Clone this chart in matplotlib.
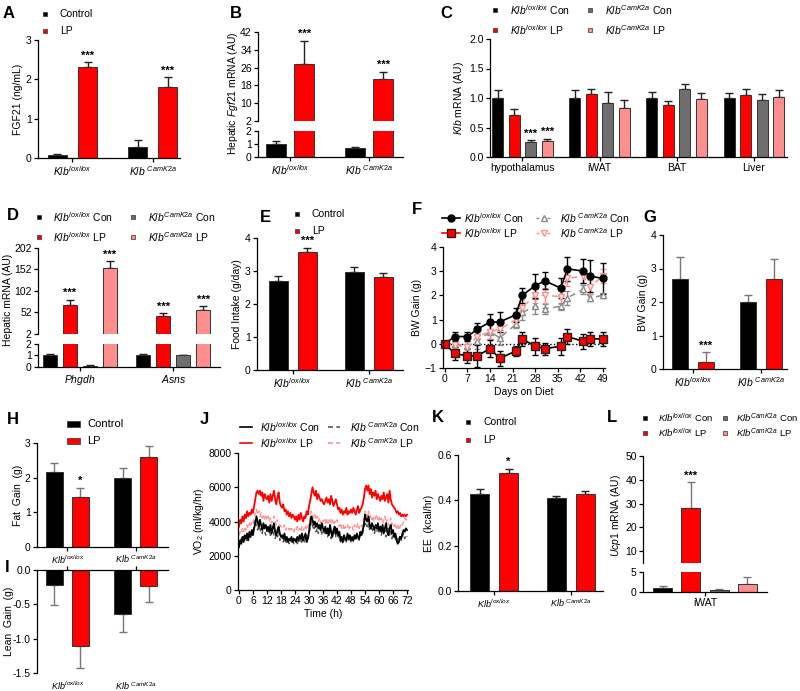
import numpy as np
import matplotlib
matplotlib.use('Agg')
import matplotlib.pyplot as plt
from matplotlib.lines import Line2D

plt.rcParams.update({
    'font.family': ['Liberation Sans', 'DejaVu Sans'],
    'font.size': 7.5,
    'mathtext.fontset': 'custom',
    'mathtext.rm': 'Liberation Sans',
    'mathtext.it': 'Liberation Sans:italic',
    'mathtext.bf': 'Liberation Sans:bold',
    'axes.spines.top': False, 'axes.spines.right': False,
    'axes.linewidth': 0.9,
    'xtick.major.size': 3, 'ytick.major.size': 3,
    'xtick.major.width': 0.9, 'ytick.major.width': 0.9,
    'xtick.major.pad': 1.5, 'ytick.major.pad': 1.5,
    'xtick.labelsize': 7.5, 'ytick.labelsize': 7.5,
    'axes.labelsize': 7.5, 'axes.labelpad': 2,
})

BLACK, RED, GRAY, PINK = '#000000', '#ff0000', '#6e6e6e', '#ff8f8f'
GENO = [r'$Klb^{lox/lox}$', r'$Klb\ ^{CamK2a}$']

# ---- data -------------------------------------------------------------
# A: plasma FGF21
A_con, A_con_err = [0.08, 0.27], [0.02, 0.19]
A_lp, A_lp_err = [2.31, 1.81], [0.13, 0.25]

# B: hepatic Fgf21 mRNA
B_con, B_con_err = [1.0, 0.68], [0.22, 0.12]
B_lp, B_lp_err = [27.6, 20.9], [10.5, 3.3]

# C: Klb mRNA by tissue
C_tissues = ['hypothalamus', 'iWAT', 'BAT', 'Liver']
C_lox_con, C_lox_con_err = [1.0, 1.0, 1.0, 1.0], [0.14, 0.14, 0.10, 0.09]
C_lox_lp, C_lox_lp_err = [0.72, 1.07, 0.88, 1.05], [0.10, 0.09, 0.07, 0.10]
C_cam_con, C_cam_con_err = [0.25, 0.92, 1.15, 0.97], [0.03, 0.18, 0.09, 0.09]
C_cam_lp, C_cam_lp_err = [0.27, 0.83, 0.99, 1.02], [0.04, 0.14, 0.09, 0.12]

# D: hepatic Phgdh / Asns
D_genes = [r'$Phgdh$', r'$Asns$']
D_lox_con, D_lox_con_err = [1.0, 1.0], [0.15, 0.15]
D_lox_lp, D_lox_lp_err = [70, 45], [12, 6]
D_cam_con, D_cam_con_err = [0.1, 1.0], [0.05, 0.08]
D_cam_lp, D_cam_lp_err = [155, 58], [17, 9]

# E: food intake
E_con, E_con_err = [2.70, 2.98], [0.15, 0.13]
E_lp, E_lp_err = [3.59, 2.83], [0.12, 0.12]

# F: body-weight gain time course
F_days = [0, 3, 7, 10, 14, 17, 22, 24, 28, 31, 36, 38, 43, 45, 49]
F_lox_con = [0, 0.3, 0.3, 0.6, 0.9, 0.9, 1.2, 2.0, 2.4, 2.6, 2.3, 3.1, 3.0, 2.8, 2.7]
F_lox_con_err = [0, 0.2, 0.2, 0.25, 0.35, 0.4, 0.3, 0.3, 0.5, 0.35, 0.4, 0.5, 0.5, 0.65, 0.65]
F_lox_lp = [0, -0.4, -0.5, -0.5, -0.2, -0.6, -0.3, 0.2, -0.1, -0.2, -0.1, 0.3, 0.1, 0.2, 0.2]
F_lox_lp_err = [0, 0.25, 0.3, 0.45, 0.35, 0.3, 0.2, 0.3, 0.35, 0.25, 0.35, 0.3, 0.3, 0.3, 0.3]
F_cam_con = [0, 0.0, -0.1, 0.1, 0.5, 0.25, 0.8, 1.3, 1.55, 1.45, 1.55, 1.9, 2.25, 1.9, 2.0]
F_cam_con_err = [0, 0.2, 0.3, 0.3, 0.3, 0.3, 0.15, 0.3, 0.3, 0.2, 0.15, 0.3, 0.2, 0.15, 0.1]
F_cam_lp = [0, -0.05, -0.15, 0.3, 0.5, 0.6, 1.0, 1.5, 2.0, 2.0, 1.95, 2.7, 2.8, 2.35, 2.8]
F_cam_lp_err = [0, 0.2, 0.25, 0.3, 0.3, 0.3, 0.3, 0.3, 0.3, 0.3, 0.3, 0.3, 0.3, 0.3, 0.3]

# G: BW gain
G_con, G_con_err = [2.7, 2.0], [0.65, 0.2]
G_lp, G_lp_err = [0.2, 2.7], [0.3, 0.58]

# H: fat gain, I: lean gain
H_con, H_con_err = [2.17, 1.98], [0.26, 0.30]
H_lp, H_lp_err = [1.43, 2.60], [0.28, 0.31]
I_con, I_con_err = [-0.22, -0.64], [0.29, 0.27]
I_lp, I_lp_err = [-1.11, -0.23], [0.31, 0.24]

# J: VO2 (0-72 h, every 0.5 h)
J_time = np.arange(0, 72.5, 0.5)
J_lox_lp = [3700, 4100, 3900, 4300, 4000, 4400, 4200, 4600, 4300, 4500, 4400, 4700, 4500,
            4900, 5300, 5700, 5800, 5600, 5800, 5500, 5700, 5200, 5600, 5400, 5300,
            5500, 5100, 5600, 5200, 5500, 5800, 5300, 5000, 5400, 5700, 5100, 4900,
            4800, 5000, 4600, 4700, 4400, 4600, 4300, 4500, 4200, 4400, 4300, 4100,
            4300, 4000, 4400, 4100, 4500, 4200, 4000, 4300, 4200, 4600, 4400, 4900,
            5200, 5600, 6000, 5700, 5500, 5800, 5300, 5600, 5400, 5200, 5300, 5100,
            5000, 5200, 5400, 5100, 5300, 5000, 5500, 5200, 4900, 5100, 5300, 5000,
            4700, 4800, 4500, 4700, 4400, 4600, 4500, 4800, 4400, 4600, 4500, 4700,
            4500, 4800, 4600, 4400, 4700, 4900, 4500, 4700, 4800, 5000, 5400, 5900,
            6100, 5800, 6100, 5600, 5900, 5400, 5700, 5500, 5800, 5300, 5600, 5400,
            5200, 5500, 5300, 5700, 5200, 5400, 5600, 5100, 5800, 5300, 5000, 4900,
            4800, 4700, 4500, 4600, 4400, 4500, 4300, 4400, 4300, 4400, 4300, 4400]
J_lox_con = [2500, 2900, 2700, 3100, 2800, 3200, 3000, 3300, 2900, 3400, 3100, 3500, 3200,
             3600, 3900, 4300, 4000, 3700, 4100, 3800, 3500, 3900, 3600, 3800, 3500,
             3700, 3400, 3800, 3300, 3600, 3900, 3400, 3200, 3500, 3700, 3300, 3100,
             3200, 3000, 3300, 2900, 3100, 2800, 3000, 2900, 3100, 2800, 3000, 2900,
             2800, 3100, 2900, 3200, 3000, 3300, 2900, 3100, 3300, 2800, 3000, 3400,
             3900, 4300, 4100, 3800, 4000, 3700, 3900, 3600, 3800, 3500, 3900, 3600,
             3400, 3700, 3300, 3600, 3200, 3800, 3400, 3100, 3500, 3700, 3300, 3600,
             3200, 3400, 2900, 3100, 2800, 3200, 3000, 2900, 3300, 3000, 3200, 2900,
             3100, 2900, 3200, 3000, 3300, 3100, 3000, 3400, 3200, 3500, 3800, 4400,
             4100, 4000, 4300, 3800, 3600, 3900, 3700, 3500, 3800, 3600, 3900, 3500,
             3700, 3400, 3800, 3300, 3600, 3900, 3400, 3200, 3600, 3800, 3300, 3500,
             3100, 3300, 2900, 2700, 2800, 3100, 3000, 3300, 3500, 3400, 3600, 3500]
J_cam_con = [2900, 2700, 3000, 2800, 3200, 2900, 3100, 2800, 3300, 3000, 3200, 3500, 3300,
             3900, 4100, 3700, 3500, 3800, 3400, 3600, 3300, 3700, 3400, 3200, 3500,
             3300, 3600, 3100, 3400, 3700, 3200, 3000, 3300, 3100, 3400, 2900, 3200,
             3000, 2800, 3100, 2700, 2900, 3000, 2700, 2900, 2800, 3000, 2700, 2900,
             3000, 2700, 2900, 2800, 3100, 2700, 3000, 2800, 3000, 3200, 2900, 3300,
             3600, 4000, 3800, 3500, 3700, 3400, 3600, 3300, 3500, 3700, 3200, 3400,
             3600, 3200, 3400, 3100, 3500, 3300, 3000, 3400, 3200, 3500, 3100, 3300,
             3000, 3200, 2800, 3000, 2700, 2900, 3100, 2800, 3000, 2900, 3100, 2800,
             3000, 2800, 3100, 2900, 3200, 3000, 2900, 3200, 3400, 3300, 3600, 4000,
             3800, 3600, 3900, 3500, 3700, 3400, 3600, 3300, 3500, 3400, 3700, 3300,
             3500, 3200, 3600, 3300, 3500, 3100, 3400, 3600, 3200, 3400, 3000, 3300,
             3100, 2900, 3200, 2800, 3000, 3200, 2900, 3100, 3300, 3000, 3200, 3100]
J_cam_lp = [3200, 3400, 3300, 3600, 3400, 3700, 3500, 3800, 3600, 3900, 3700, 4000, 3900,
            4200, 4500, 4700, 4400, 4600, 4300, 4500, 4200, 4400, 4100, 4300, 4100,
            4300, 4000, 4200, 3900, 4100, 4300, 4000, 3800, 4100, 3900, 3800, 3700,
            3700, 3600, 3800, 3500, 3700, 3600, 3500, 3700, 3500, 3600, 3400, 3600,
            3500, 3700, 3500, 3600, 3400, 3700, 3500, 3600, 3800, 3500, 3700, 3900,
            4300, 4600, 4400, 4200, 4400, 4100, 4300, 4000, 4200, 3900, 4100, 4000,
            4100, 3900, 4200, 3800, 4000, 4200, 3900, 4100, 3800, 4000, 3900, 4100,
            3800, 3700, 3900, 3600, 3800, 3500, 3700, 3600, 3800, 3500, 3700, 3600,
            3700, 3500, 3800, 3600, 3700, 3900, 3600, 3800, 3700, 3900, 4200, 4600,
            4500, 4300, 4600, 4200, 4400, 4100, 4300, 4000, 4200, 4400, 4100, 4300,
            4000, 4200, 3900, 4100, 4300, 3900, 4100, 3800, 4000, 4200, 3800, 3900,
            3700, 3900, 3600, 3800, 3500, 3700, 3900, 3800, 4000, 4200, 4100, 4200]

# K: energy expenditure
K_con, K_con_err = [0.43, 0.41], [0.02, 0.01]
K_lp, K_lp_err = [0.52, 0.43], [0.02, 0.01]

# L: Ucp1 in iWAT (lox con, lox LP, cam con, cam LP)
L_vals, L_errs = [1.0, 28.0, 0.5, 2.0], [0.4, 11.0, 0.3, 1.8]

# ---- helpers ----------------------------------------------------------
W, H = 800, 691
fig = plt.figure(figsize=(W / 100, H / 100), dpi=100)


def fx(x):
    return x / W


def fy(y):
    return 1 - y / H


def px_axes(l, t, r, b):
    return fig.add_axes([fx(l), fy(b), (r - l) / W, (b - t) / H])


def draw_bars(ax, vals, errs, colors, width, step, ecolor='#222', stars=None, fs=8, floor=None):
    n = len(vals)
    for k in range(n):
        v = np.asarray(vals[k], float)
        e = np.asarray(errs[k], float)
        if floor is not None:
            keep = v > floor
            v = np.where(keep, v, np.nan)
            e = np.where(keep, e, np.nan)
        x = np.arange(len(v)) + (k - (n - 1) / 2) * step
        ax.bar(x, v, width=width, color=colors[k], edgecolor='#333333', linewidth=0.7, zorder=2)
        lo = np.where(v < 0, e, 0)
        hi = np.where(v >= 0, e, 0)
        ax.errorbar(x, v, yerr=[lo, hi], fmt='none', ecolor=ecolor, elinewidth=1.0,
                    capsize=2.8, capthick=1.0, zorder=1)
        if stars is not None:
            for xi, vi, ei, s in zip(x, v, e, stars[k]):
                if s:
                    ax.annotate(s, (xi, vi + ei), xytext=(0, 1), textcoords='offset points',
                                ha='center', va='bottom', fontsize=fs, fontweight='bold')


def legend_sq(x, y, tx, label, color, w=4.5, h=4.5, fs=7.5):
    fig.add_artist(plt.Rectangle((fx(x - w / 2), fy(y + h / 2)), w / W, h / H,
                                 transform=fig.transFigure, facecolor=color,
                                 edgecolor='#333333', linewidth=0.5))
    fig.text(fx(tx), fy(y), label, va='center', ha='left', fontsize=fs)


def legend_line(x0, x1, y, tx, label, color, ls='-', marker=None, mfc=None, ms=5, lw=1.2, fs=7.5):
    fig.add_artist(Line2D([fx(x0), fx(x1)], [fy(y), fy(y)], transform=fig.transFigure,
                          color=color, ls=ls, lw=lw))
    if marker:
        fig.add_artist(Line2D([fx((x0 + x1) / 2)], [fy(y)], transform=fig.transFigure,
                              marker=marker, ms=ms, color=color,
                              mfc=mfc if mfc else color, mec=color if color != RED else '#222'))
    fig.text(fx(tx), fy(y), label, va='center', ha='left', fontsize=fs)


def panel(x, y, s):
    fig.text(fx(x), fy(y), s, fontsize=12, fontweight='bold', va='center', ha='left')


def geno_ticks(ax, fs=7.5):
    ax.set_xticks([0, 1])
    ax.set_xticklabels(GENO, fontsize=fs)


def ylab(x, y, s):
    fig.text(fx(x), fy(y), s, rotation=90, ha='center', va='center', fontsize=7.5)


# ---- A ----------------------------------------------------------------
ax = px_axes(38, 40, 180, 158)
draw_bars(ax, [A_con, A_lp], [A_con_err, A_lp_err], [BLACK, RED], 0.24, 0.375,
          stars=[['', ''], ['***', '***']])
ax.set_xlim(-0.43, 1.34)
ax.set_ylim(0, 3)
ax.set_yticks([0, 1, 2, 3])
geno_ticks(ax)
ax.set_ylabel('FGF21 (ng/mL)')
panel(3, 13, 'A')
legend_sq(45, 14, 60, 'Control', BLACK)
legend_sq(45, 31, 60, 'LP', RED)

# ---- B (broken axis) --------------------------------------------------
axu = px_axes(258, 32, 403, 121)
axl = px_axes(258, 131, 403, 157)
draw_bars(axu, [B_con, B_lp], [B_con_err, B_lp_err], [BLACK, RED], 0.25, 0.36,
          stars=[['', ''], ['***', '***']], floor=2)
draw_bars(axl, [B_con, B_lp], [B_con_err, B_lp_err], [BLACK, RED], 0.25, 0.36)
for a in (axu, axl):
    a.set_xlim(-0.405, 1.43)
axu.set_ylim(2, 42)
axu.set_yticks([2, 10, 18, 26, 34, 42])
axu.spines['bottom'].set_visible(False)
axu.set_xticks([])
axl.set_ylim(0, 2)
axl.set_yticks([0, 1, 2])
geno_ticks(axl)
ylab(233, 93, r'Hepatic $Fgf21$ mRNA (AU)')
panel(230, 13, 'B')

# ---- C ----------------------------------------------------------------
ax = px_axes(490, 39, 787, 157)
draw_bars(ax, [C_lox_con, C_lox_lp, C_cam_con, C_cam_lp],
          [C_lox_con_err, C_lox_lp_err, C_cam_con_err, C_cam_lp_err],
          [BLACK, RED, GRAY, PINK], 0.143, 0.214,
          stars=[['', '', '', ''], ['', '', '', ''], ['***', '', '', ''], ['***', '', '', '']])
ax.set_xlim(-0.42, 3.43)
ax.set_ylim(0, 2)
ax.set_yticks([0, 0.5, 1.0, 1.5, 2.0])
ax.set_yticklabels(['0.0', '0.5', '1.0', '1.5', '2.0'])
ax.set_xticks(range(4))
ax.set_xticklabels(C_tissues)
ax.set_ylabel(r'$Klb$ mRNA (AU)')
panel(440, 13, 'C')
legend_sq(495, 10, 510, r'$Klb^{lox/lox}$ Con', BLACK)
legend_sq(495, 30, 510, r'$Klb^{lox/lox}$ LP', RED)
legend_sq(590, 10, 605, r'$Klb^{CamK2a}$ Con', GRAY)
legend_sq(590, 30, 605, r'$Klb^{CamK2a}$ LP', PINK)

# ---- D (broken axis) --------------------------------------------------
axu = px_axes(38, 248, 220, 334)
axl = px_axes(38, 344, 220, 367)
D_all = [D_lox_con, D_lox_lp, D_cam_con, D_cam_lp]
D_all_err = [D_lox_con_err, D_lox_lp_err, D_cam_con_err, D_cam_lp_err]
D_colors = [BLACK, RED, GRAY, PINK]
draw_bars(axu, D_all, D_all_err, D_colors, 0.15, 0.214,
          stars=[['', ''], ['***', '***'], ['', ''], ['***', '***']], floor=2)
draw_bars(axl, D_all, D_all_err, D_colors, 0.15, 0.214)
for a in (axu, axl):
    a.set_xlim(-0.45, 1.5)
axu.set_ylim(2, 202)
axu.set_yticks([2, 52, 102, 152, 202])
axu.spines['bottom'].set_visible(False)
axu.set_xticks([])
axl.set_ylim(0, 2)
axl.set_yticks([0, 1, 2])
axl.set_xticks([0, 1])
axl.set_xticklabels(D_genes)
ylab(8, 300, 'Hepatic mRNA (AU)')
panel(7, 216, 'D')
legend_sq(39, 217, 53, r'$Klb^{lox/lox}$ Con', BLACK)
legend_sq(39, 237, 53, r'$Klb^{lox/lox}$ LP', RED)
legend_sq(133, 217, 148, r'$Klb^{CamK2a}$ Con', GRAY)
legend_sq(133, 237, 148, r'$Klb^{CamK2a}$ LP', PINK)

# ---- E ----------------------------------------------------------------
ax = px_axes(257, 238, 403, 370)
draw_bars(ax, [E_con, E_lp], [E_con_err, E_lp_err], [BLACK, RED], 0.25, 0.38,
          stars=[['', ''], ['***', '']])
ax.set_xlim(-0.47, 1.45)
ax.set_ylim(0, 4)
ax.set_yticks([0, 1, 2, 3, 4])
geno_ticks(ax)
ax.set_ylabel('Food Intake (g/day)')
panel(260, 217, 'E')
legend_sq(297, 214, 312, 'Control', BLACK)
legend_sq(297, 231, 312, 'LP', RED)

# ---- F ----------------------------------------------------------------
ax = px_axes(443, 247, 605, 368)
ax.axhline(0, color='k', ls=':', lw=1.0, zorder=0)
ax.errorbar(F_days, F_cam_con, yerr=F_cam_con_err, color='#8a8a8a', ls=(0, (4, 3)), lw=1.1,
            marker='^', ms=5, mfc='white', mec='#8a8a8a', capsize=2.5, elinewidth=1, clip_on=False)
ax.errorbar(F_days, F_cam_lp, yerr=F_cam_lp_err, color=PINK, ls=(0, (4, 3)), lw=1.1,
            marker='v', ms=5, mfc='white', mec=PINK, capsize=2.5, elinewidth=1, clip_on=False)
ax.errorbar(F_days, F_lox_con, yerr=F_lox_con_err, color=BLACK, lw=1.2,
            marker='o', ms=5, capsize=2.5, elinewidth=1, clip_on=False)
ax.errorbar(F_days, F_lox_lp, yerr=F_lox_lp_err, color=BLACK, lw=1.2,
            marker='s', ms=5.5, mfc=RED, mec='#222', capsize=2.5, elinewidth=1, clip_on=False)
ax.set_xlim(-0.6, 49.7)
ax.set_ylim(-1, 4)
ax.set_xticks(range(0, 50, 7))
ax.set_yticks(range(-1, 5))
ax.set_xlabel('Days on Diet')
ax.set_ylabel('BW Gain (g)')
panel(412, 210, 'F')
legend_line(442, 460, 218, 464, r'$Klb^{lox/lox}$ Con', BLACK, marker='o')
legend_line(442, 460, 233, 464, r'$Klb^{lox/lox}$ LP', RED, marker='s', ms=5.5)
legend_line(536, 552, 218, 560, r'$Klb\ ^{CamK2a}$ Con', '#8a8a8a', ls=(0, (2, 2)), marker='^', mfc='white', lw=1)
legend_line(536, 552, 233, 560, r'$Klb\ ^{CamK2a}$ LP', PINK, ls=(0, (2, 2)), marker='v', mfc='white', lw=1)

# ---- G ----------------------------------------------------------------
ax = px_axes(663, 235, 787, 369)
draw_bars(ax, [G_con, G_lp], [G_con_err, G_lp_err], [BLACK, RED], 0.235, 0.375,
          ecolor='#777777', stars=[['', ''], ['***', '']])
ax.set_xlim(-0.44, 1.38)
ax.set_ylim(0, 4)
ax.set_yticks([0, 1, 2, 3, 4])
geno_ticks(ax)
ax.set_ylabel('BW Gain (g)')
panel(643, 218, 'G')

# ---- H ----------------------------------------------------------------
ax = px_axes(37, 443, 168, 547)
draw_bars(ax, [H_con, H_lp], [H_con_err, H_lp_err], [BLACK, RED], 0.25, 0.38,
          ecolor='#777777', stars=[['', ''], ['*', '']])
ax.set_xlim(-0.445, 1.47)
ax.set_ylim(0, 3)
ax.set_yticks([0, 1, 2, 3])
geno_ticks(ax, fs=6.5)
ylab(18, 495, 'Fat  Gain  (g)')
panel(7, 420, 'H')
legend_sq(73, 424, 87, 'Control', BLACK, w=13, h=6, fs=8)
legend_sq(73, 441, 87, 'LP', RED, w=13, h=6, fs=8)

# ---- I ----------------------------------------------------------------
ax = px_axes(37, 570, 168, 673)
draw_bars(ax, [I_con, I_lp], [I_con_err, I_lp_err], [BLACK, RED], 0.25, 0.38,
          ecolor='#777777')
ax.set_xlim(-0.445, 1.47)
ax.set_ylim(-1.5, 0)
ax.set_yticks([0, -0.5, -1.0, -1.5])
ax.set_yticklabels(['0.0', '-0.5', '-1.0', '-1.5'])
ax.spines['bottom'].set_visible(False)
ax.spines['top'].set_visible(True)
ax.tick_params(axis='x', bottom=False, top=True, labelbottom=True, labeltop=False, pad=2)
geno_ticks(ax, fs=6.5)
ylab(9, 621, 'Lean  Gain  (g)')
panel(5, 567, 'I')

# ---- J ----------------------------------------------------------------
ax = px_axes(238, 453, 408, 590)
ax.plot(J_time, J_cam_con, color='#555555', ls=(0, (3, 2)), lw=1.0)
ax.plot(J_time, J_cam_lp, color=PINK, ls=(0, (3, 2)), lw=1.0)
ax.plot(J_time, J_lox_con, color=BLACK, lw=1.3)
ax.plot(J_time, J_lox_lp, color=RED, lw=1.3)
ax.set_xlim(-0.4, 72.4)
ax.set_ylim(0, 8000)
ax.set_xticks(range(0, 73, 6))
ax.set_yticks([0, 2000, 4000, 6000, 8000])
ax.set_xlabel('Time (h)')
ax.set_ylabel(r'VO$_\mathregular{2}$ (ml/kg/hr)')
panel(200, 420, 'J')
legend_line(240, 252, 427, 260, r'$Klb^{lox/lox}$ Con', BLACK)
legend_line(240, 252, 443, 260, r'$Klb^{lox/lox}$ LP', RED)
legend_line(328, 340, 427, 350, r'$Klb\ ^{CamK2a}$ Con', '#555555', ls=(0, (3, 2)))
legend_line(328, 340, 443, 350, r'$Klb\ ^{CamK2a}$ LP', PINK, ls=(0, (3, 2)))

# ---- K ----------------------------------------------------------------
ax = px_axes(458, 455, 603, 591)
draw_bars(ax, [K_con, K_lp], [K_con_err, K_lp_err], [BLACK, RED], 0.25, 0.377,
          stars=[['', ''], ['*', '']])
ax.set_xlim(-0.47, 1.42)
ax.set_ylim(0, 0.6)
ax.set_yticks([0, 0.2, 0.4, 0.6])
ax.set_yticklabels(['0.0', '0.2', '0.4', '0.6'])
geno_ticks(ax, fs=6.5)
ax.set_ylabel('EE  (kcal/hr)')
panel(432, 418, 'K')
legend_sq(468, 422, 483, 'Control', BLACK)
legend_sq(468, 440, 483, 'LP', RED)

# ---- L (broken axis) --------------------------------------------------
L_colors = [BLACK, RED, GRAY, PINK]
axu = px_axes(643, 456, 767, 563)
axl = px_axes(643, 572, 767, 592)
L_v = [[v] for v in L_vals]
L_e = [[e] for e in L_errs]
draw_bars(axu, L_v, L_e, L_colors, 0.67, 1.0, ecolor='#777777',
          stars=[[''], ['***'], [''], ['']], floor=5)
draw_bars(axl, L_v, L_e, L_colors, 0.67, 1.0, ecolor='#777777')
for a in (axu, axl):
    a.set_xlim(-2.19, 2.19)
axu.set_ylim(5, 50)
axu.set_yticks([10, 20, 30, 40, 50])
axu.spines['bottom'].set_visible(False)
axu.set_xticks([])
axl.set_ylim(0, 5)
axl.set_yticks([0, 5])
axl.set_xticks([0])
axl.set_xticklabels(['iWAT'])
ylab(616, 515, r'$Ucp1$ mRNA (AU)')
panel(607, 418, 'L')
legend_sq(645, 418, 658, r'$Klb^{lox/lox}$ Con', BLACK, fs=6.8)
legend_sq(645, 433, 658, r'$Klb^{lox/lox}$ LP', RED, fs=6.8)
legend_sq(725, 418, 736, r'$Klb^{CamK2a}$ Con', GRAY, fs=6.8)
legend_sq(725, 433, 736, r'$Klb^{CamK2a}$ LP', PINK, fs=6.8)

fig.savefig('out.png', dpi=100)
